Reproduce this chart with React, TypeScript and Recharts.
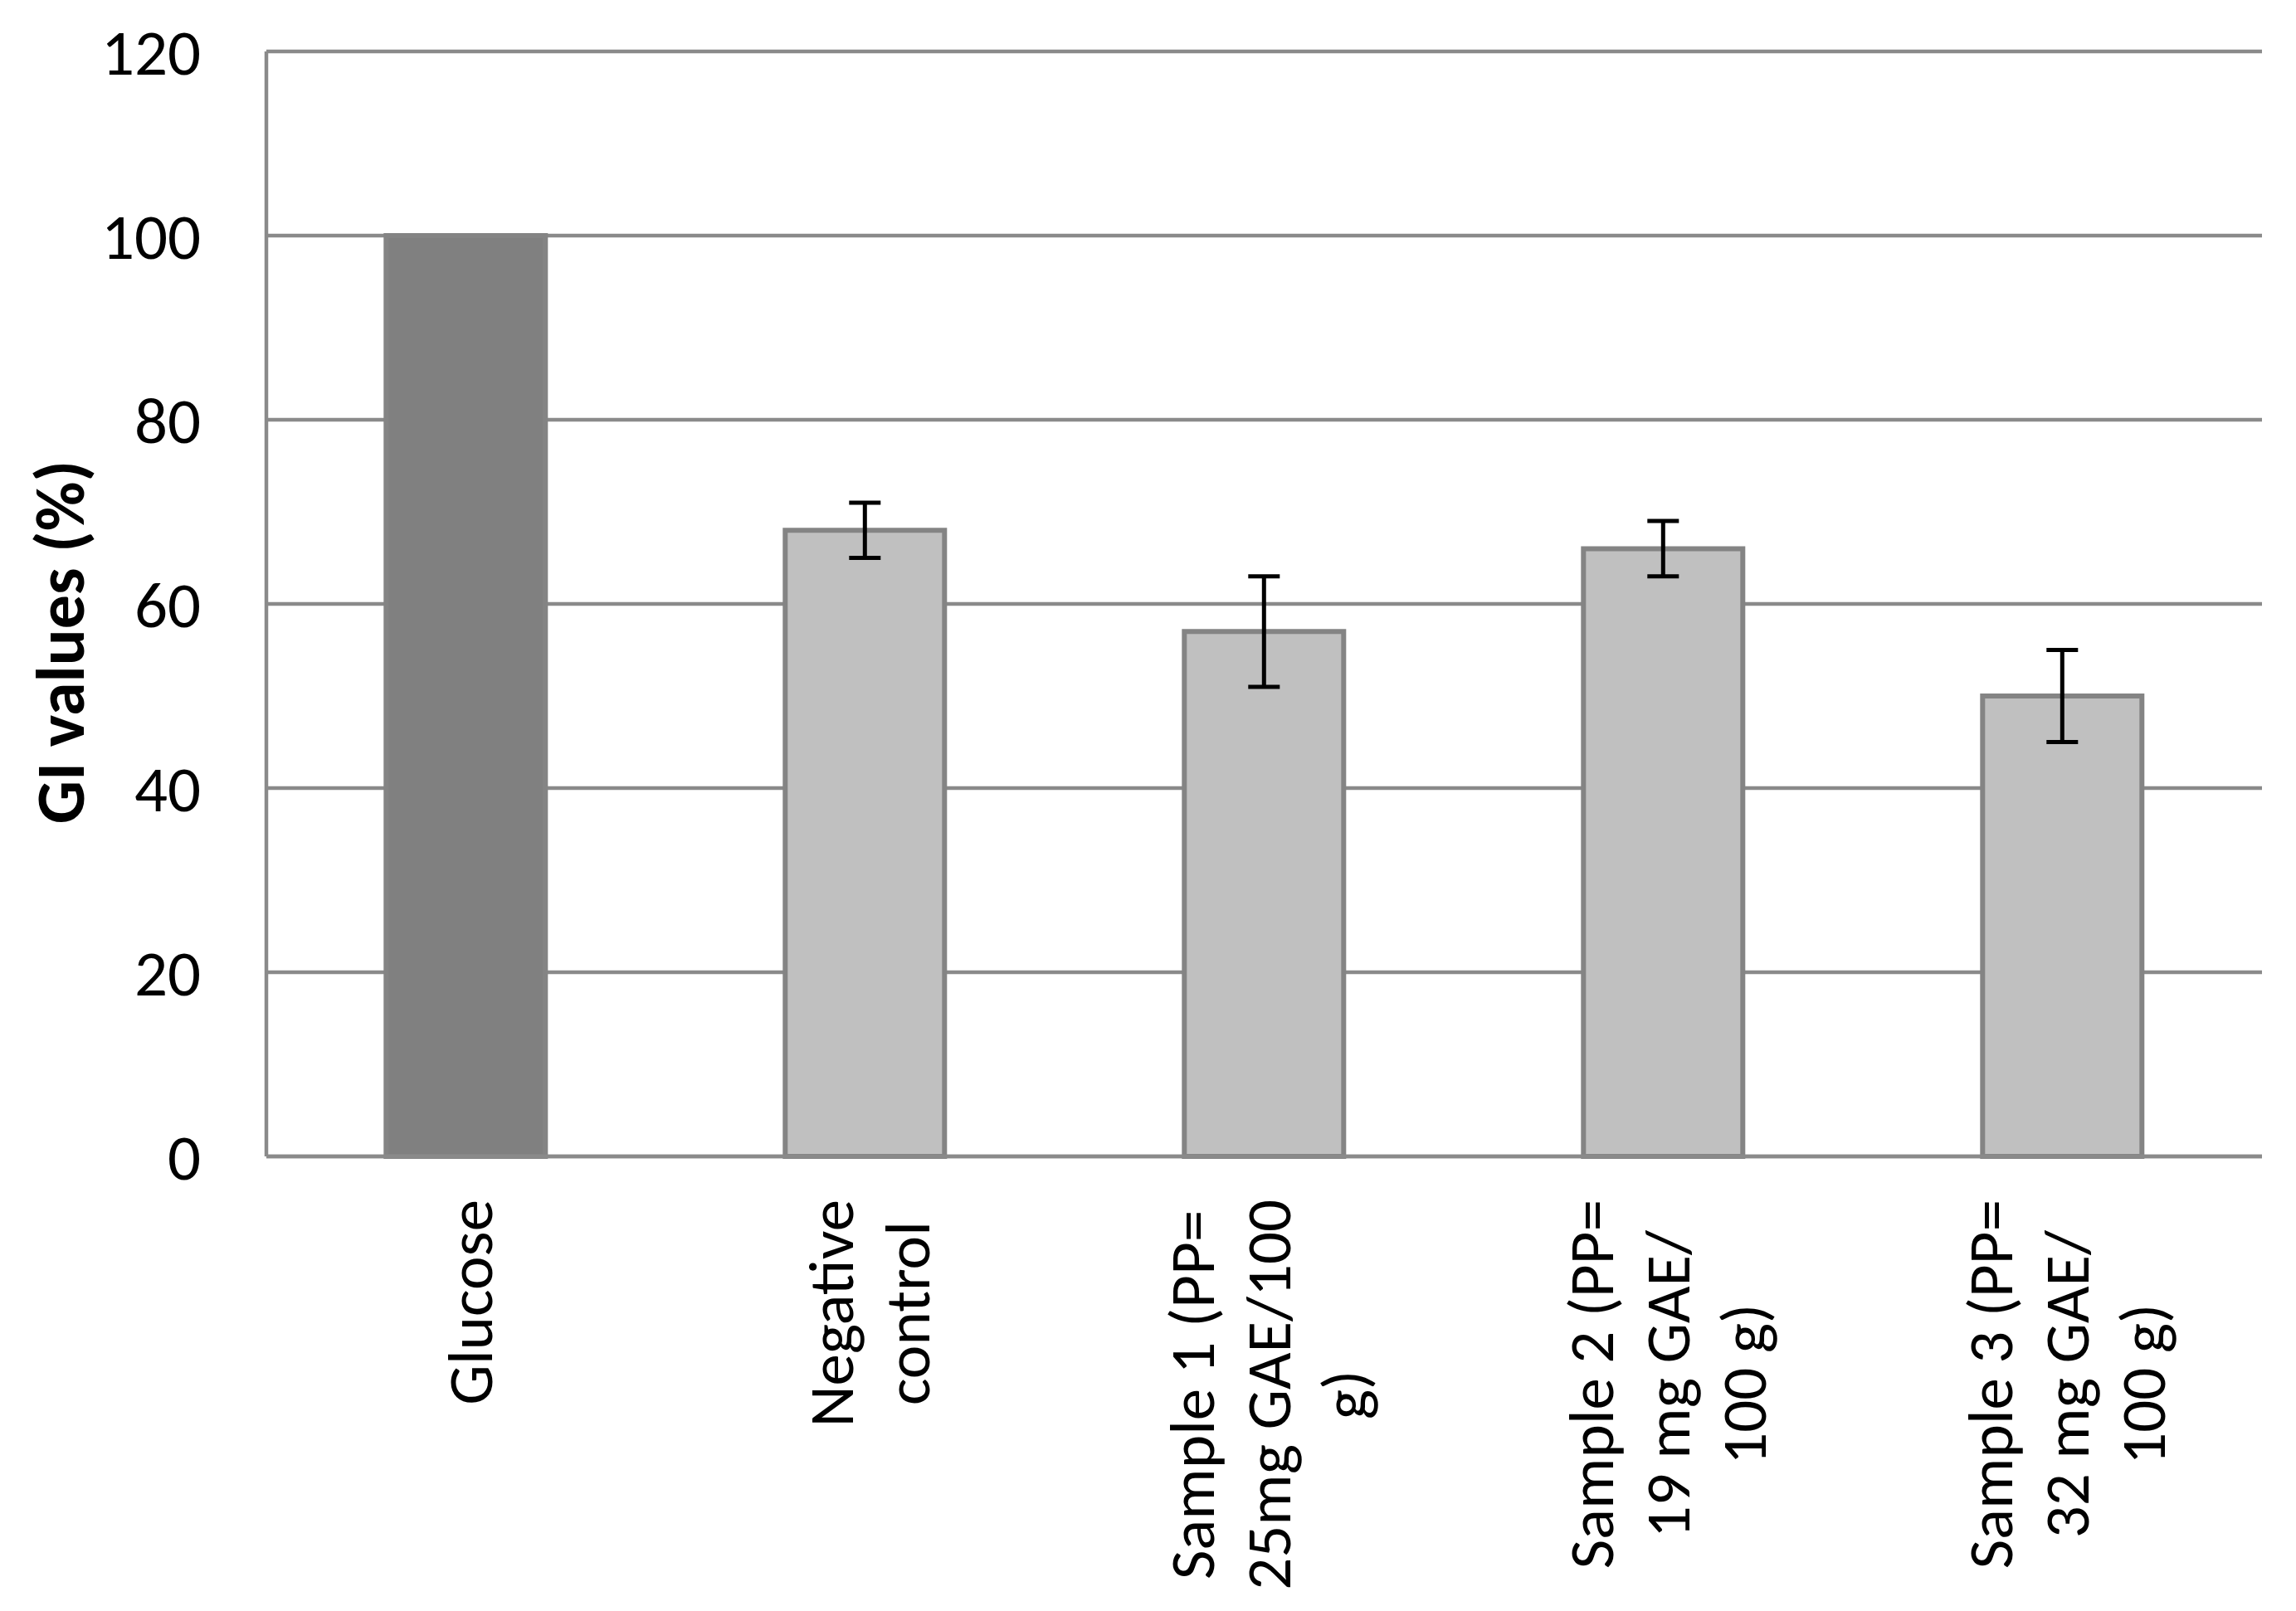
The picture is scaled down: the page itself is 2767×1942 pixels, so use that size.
import { Bar, BarChart, CartesianGrid, Cell, ErrorBar, Label, XAxis, YAxis } from "recharts";

const categories = [
  "Glucose",
  "Negative control",
  "Sample 1 (PP= 25mg GAE/100 g)",
  "Sample 2 (PP= 19 mg GAE/ 100 g)",
  "Sample 3 (PP= 32 mg GAE/ 100 g)",
];
// how Excel wrapped each category label
const tickLines = [
  ["Glucose"],
  ["Negative", "control"],
  ["Sample 1 (PP=", "25mg GAE/100", "g)"],
  ["Sample 2 (PP=", "19 mg GAE/", "100 g)"],
  ["Sample 3 (PP=", "32 mg GAE/", "100 g)"],
];
const giValues = [100, 68, 57, 66, 50];
const giErrors: (number | null)[] = [null, 3, 6, 3, 5];
const yTicks = [0, 20, 40, 60, 80, 100, 120];

const data = categories.map((name, i) => ({ name, gi: giValues[i], err: giErrors[i] }));

const FONT = "Carlito, Calibri, Lato, sans-serif";
const TICK_SIZE = 77;
const LINE_H = 92;
const GRID = "#8a8a8a";

let ctx: CanvasRenderingContext2D | null = null;
function textWidth(s: string) {
  if (!ctx) ctx = document.createElement("canvas").getContext("2d");
  if (!ctx) return s.length * TICK_SIZE * 0.5;
  ctx.font = `${TICK_SIZE}px ${FONT}`;
  return ctx.measureText(s).width;
}

function CategoryTick({ x, y, payload }: { x?: number; y?: number; payload?: { value: string } }) {
  if (x == null || y == null || !payload) return null;
  const lines = tickLines[categories.indexOf(payload.value)] || [payload.value];
  const maxW = Math.max(...lines.map(textWidth));
  const cy = y + 50 + maxW / 2;
  return (
    <g>
      {lines.map((line, i) => {
        const lx = x + (i - (lines.length - 1) / 2) * LINE_H + 6;
        return (
          <text
            key={i}
            x={lx}
            y={cy}
            transform={`rotate(-90 ${lx} ${cy})`}
            textAnchor="middle"
            dominantBaseline="central"
            fontFamily={FONT}
            fontSize={TICK_SIZE}
            fill="#000"
          >
            {line}
          </text>
        );
      })}
    </g>
  );
}

export default function App() {
  return (
    <div style={{ position: "absolute", left: 0, top: 0, width: 2767, height: 1942, background: "#fff" }}>
      <BarChart
        width={2767}
        height={1942}
        data={data}
        margin={{ top: 62, right: 41, left: 0, bottom: 0 }}
        barCategoryGap="30%"
      >
        <CartesianGrid vertical={false} stroke={GRID} strokeWidth={4.5} />
        <XAxis
          dataKey="name"
          height={548}
          interval={0}
          tickLine={false}
          tickSize={0}
          axisLine={{ stroke: GRID, strokeWidth: 4.5 }}
          tick={(props: any) => <CategoryTick {...props} />}
        />
        <YAxis
          width={321}
          domain={[0, 120]}
          ticks={yTicks}
          tickLine={false}
          tickSize={0}
          tickMargin={79}
          axisLine={{ stroke: GRID, strokeWidth: 4.5 }}
          tick={{ fill: "#000", fontSize: TICK_SIZE + 2, fontFamily: FONT }}
        >
          <Label
            content={({ viewBox }: any) => {
              const lx = (viewBox?.x ?? 0) + 73;
              const ly = (viewBox?.y ?? 0) + (viewBox?.height ?? 0) / 2 + 46;
              return (
                <text
                  x={lx}
                  y={ly}
                  transform={`rotate(-90 ${lx} ${ly})`}
                  textAnchor="middle"
                  dominantBaseline="central"
                  fontFamily={FONT}
                  fontWeight="bold"
                  fontSize={82}
                  fill="#000"
                >
                  GI values (%)
                </text>
              );
            }}
          />
        </YAxis>
        <Bar dataKey="gi" isAnimationActive={false} strokeWidth={6}>
          {data.map((_, i) => (
            <Cell key={i} fill={i === 0 ? "#808080" : "#c0c0c0"} stroke="#848484" />
          ))}
          <ErrorBar dataKey="err" width={19} stroke="#000" strokeWidth={5} isAnimationActive={false} />
        </Bar>
      </BarChart>
    </div>
  );
}
